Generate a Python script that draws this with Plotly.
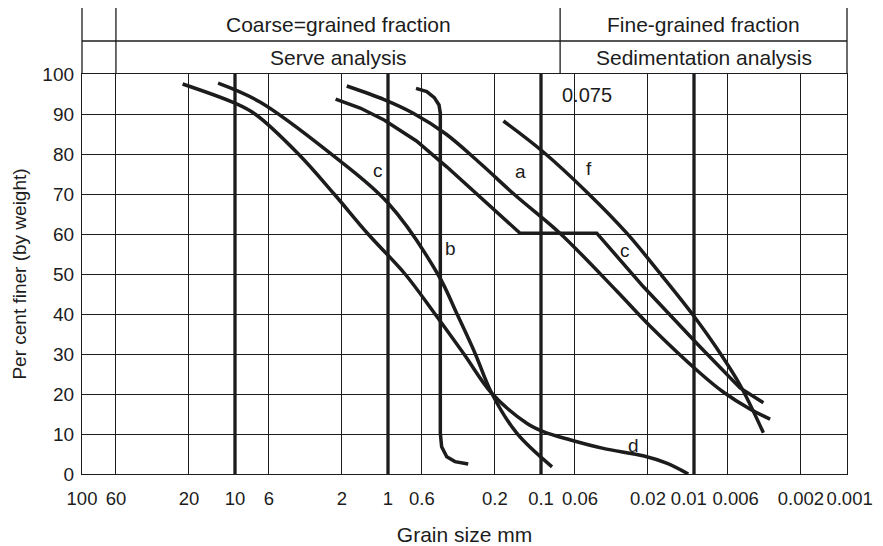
import math
import plotly.graph_objects as go

# ---------------- data ----------------
grid_sizes = [100, 60, 20, 10, 6, 2, 1, 0.6, 0.2, 0.1, 0.06, 0.02, 0.01, 0.006, 0.002, 0.001]
grid_labels = ["100", "60", "20", "10", "6", "2", "1", "0.6", "0.2", "0.1",
               "\u00a0\u00a00.06", "0.02", "0.01\u00a0\u00a0", "\u00a0\u00a0\u00a00.006",
               "0.002", "\u00a00.001"]
thick_sizes = [10, 1, 0.1, 0.01]
pct_ticks = [0, 10, 20, 30, 40, 50, 60, 70, 80, 90, 100]
boundary_size = 0.075

# curve running from 20 mm into the fine tail (d)
curve_d_size = [22.0, 10, 7.40, 3.85, 2.25, 1.35, 0.774, 0.493, 0.319, 0.210,
                0.124, 0.0966, 0.064, 0.0392, 0.0212, 0.0151, 0.0109]
curve_d_pct = [97.5, 92.7, 90, 80, 70, 60, 50, 40, 30, 20.2,
               12.7, 10.6, 8.5, 6.4, 4.5, 2.7, 0]

# left curve labelled c
curve_c1_size = [12.9, 6.87, 2.39, 1.0, 0.469, 0.356, 0.270, 0.210, 0.144, 0.0847]
curve_c1_pct = [97.7, 93, 80.2, 67.75, 49.75, 40.2, 30.2, 20.2, 10.2, 1.8]

# curve b
curve_b_size = [0.656, 0.558, 0.498, 0.464, 0.455, 0.455, 0.446, 0.413, 0.365, 0.299]
curve_b_pct = [96.4, 95.6, 94.1, 92.25, 90.2, 10.2, 6.8, 4.3, 3.1, 2.5]

# curve a
curve_a_size = [1.86, 1.06, 0.684, 0.418, 0.251, 0.148, 0.0752, 0.032, 0.0194,
                0.00914, 0.00644, 0.00431, 0.00318]
curve_a_pct = [97, 93.6, 90.2, 85, 77.75, 69.75, 60.2, 45.75, 37,
               25.25, 20.5, 16.25, 13.7]

# right curve labelled c (plateau at 60 %)
curve_c2_size = [2.20, 1.52, 1.06, 0.652, 0.413, 0.251, 0.137, 0.0432, 0.0214, 0.00914, 0.0050, 0.00352]
curve_c2_pct = [93.7, 91.5, 88.5, 83.25, 76.8, 69.3, 60.2, 60.2, 46.8, 31.8, 21.5, 17.8]

# curve f
curve_f_size = [0.176, 0.0966, 0.0493, 0.0275, 0.0167, 0.01035, 0.00711, 0.0050, 0.00352]
curve_f_pct = [88.25, 80.5, 70.2, 60.2, 50.2, 40.2, 31.5, 22.25, 10.3]

label_text = ["c", "a", "f", "b", "c", "d"]
label_size = [1.16, 0.137, 0.0483, 0.389, 0.0283, 0.0249]
label_pct = [76, 75.6, 76.4, 56.4, 56, 7.25]

header_top = ["Coarse=grained fraction", "Fine-grained fraction"]
header_bottom = ["Serve analysis", "Sedimentation analysis"]

# ---------------- figure ----------------
INK = "#1c1c1c"
FONT = "Liberation Sans, Arial, Helvetica, sans-serif"

fig = go.Figure()

curves = [
    (curve_d_size, curve_d_pct, "spline"),
    (curve_c1_size, curve_c1_pct, "spline"),
    (curve_b_size, curve_b_pct, "linear"),
    (curve_a_size, curve_a_pct, "spline"),
    (curve_c2_size, curve_c2_pct, "linear"),
    (curve_f_size, curve_f_pct, "spline"),
]
for xs, ys, shp in curves:
    fig.add_trace(go.Scatter(x=xs, y=ys, mode="lines",
                             line=dict(color=INK, width=3.5, shape=shp, smoothing=1.0),
                             hoverinfo="skip", showlegend=False))

lx_max = math.log10(grid_sizes[0])
lx_min = math.log10(grid_sizes[-1])


def xp(v):
    return (lx_max - math.log10(v)) / (lx_max - lx_min)


shapes = []
for v in thick_sizes:
    shapes.append(dict(type="line", xref="x", yref="y", x0=v, x1=v, y0=0, y1=100,
                       line=dict(color=INK, width=3.3), layer="below"))

row_mid = 1.0825
row_top = 1.1675
line_style = dict(color=INK, width=1.3)
shapes += [
    dict(type="line", xref="paper", yref="paper", x0=0, x1=1, y0=row_top, y1=row_top, line=line_style),
    dict(type="line", xref="paper", yref="paper", x0=0, x1=1, y0=row_mid, y1=row_mid, line=line_style),
    dict(type="line", xref="paper", yref="paper", x0=0, x1=0, y0=1, y1=row_top, line=line_style),
    dict(type="line", xref="paper", yref="paper", x0=1, x1=1, y0=1, y1=row_top, line=line_style),
    dict(type="line", xref="paper", yref="paper", x0=xp(grid_sizes[1]), x1=xp(grid_sizes[1]),
         y0=1, y1=row_top, line=line_style),
    dict(type="line", xref="paper", yref="paper", x0=xp(boundary_size), x1=xp(boundary_size),
         y0=1, y1=row_top, line=line_style),
]

annotations = []
cell_centres = [(xp(grid_sizes[1]) + xp(boundary_size)) / 2, (xp(boundary_size) + 1) / 2]
for i in range(2):
    annotations.append(dict(x=cell_centres[i], y=(row_mid + row_top) / 2, xref="paper", yref="paper",
                            xanchor="center", yanchor="middle",
                            text=header_top[i], showarrow=False,
                            font=dict(size=21, color=INK, family=FONT)))
    annotations.append(dict(x=cell_centres[i], y=(1 + row_mid) / 2, xref="paper", yref="paper",
                            xanchor="center", yanchor="middle",
                            text=header_bottom[i], showarrow=False,
                            font=dict(size=21, color=INK, family=FONT)))

annotations.append(dict(x=math.log10(boundary_size), y=94.75, xref="x", yref="y",
                        text=str(boundary_size), showarrow=False, xanchor="left", yanchor="middle",
                        font=dict(size=20, color=INK, family=FONT)))

for t, s, p in zip(label_text, label_size, label_pct):
    annotations.append(dict(x=math.log10(s), y=p, xref="x", yref="y", text=t, showarrow=False,
                            xanchor="center", yanchor="middle",
                            font=dict(size=19, color=INK, family=FONT)))

# the page body adds an 8 px offset, so the figure is sized to fit inside the window
fig.update_layout(
    width=875, height=538,
    margin=dict(l=74, r=36, t=66, b=72, autoexpand=False),
    paper_bgcolor="white", plot_bgcolor="white",
    font=dict(family=FONT, color=INK, size=19),
    shapes=shapes, annotations=annotations,
    xaxis=dict(type="log", range=[lx_max, lx_min], tickvals=grid_sizes, ticktext=grid_labels,
               showgrid=True, gridcolor=INK, gridwidth=1.2, showline=True, mirror=True,
               linecolor=INK, linewidth=1.3, zeroline=False, ticks="", tickangle=0,
               automargin=False, tickfont=dict(size=18.5), ticklabelstandoff=8,
               title=dict(text="Grain size mm", font=dict(size=21), standoff=22)),
    yaxis=dict(range=[0, 100], tickvals=pct_ticks, showgrid=True, gridcolor=INK, gridwidth=1.2,
               showline=True, mirror=True, linecolor=INK, linewidth=1.3, zeroline=False,
               ticks="", tickfont=dict(size=19), ticklabelstandoff=3, automargin=False,
               title=dict(text="Per cent finer (by weight)", font=dict(size=19), standoff=10)),
)

fig.write_html("out.html")
